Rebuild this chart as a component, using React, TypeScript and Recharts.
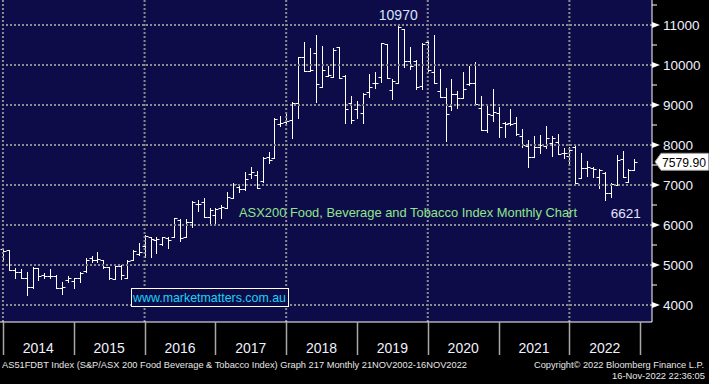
import React from "react";
import {
  ComposedChart,
  Bar,
  XAxis,
  YAxis,
  CartesianGrid,
  ReferenceLine,
  ReferenceDot,
} from "recharts";

// monthly bars, first one is Dec 2013, last one Nov 2022 (partial month)
const yearLabels = ["2014", "2015", "2016", "2017", "2018", "2019", "2020", "2021", "2022"];

const opens = [
  5390, 5370, 4875, 4817, 4683, 4442, 4917, 4740, 4725, 4725, 4417, 4625,
  4600, 4667, 4850, 5167, 5125, 5125, 4950, 4660, 4975, 4667, 5125, 5275,
  5475, 5692, 5625, 5525, 5667, 5708, 6125, 5692, 6067, 6525, 6583, 6208,
  6250, 6433, 6433, 6683, 6958, 6900, 7267, 7250, 7100, 7708, 7683, 8517,
  8583, 8620, 9042, 10192, 9858, 10290, 9442, 9725, 9708, 10442, 9725, 9058,
  8892, 8808, 9317, 9542, 9692, 10525, 9375, 9558, 10892, 10108, 10108, 9475,
  10583, 9833, 9358, 9192, 8975, 9275, 9170, 9525, 9542, 8917, 8375, 8750,
  8792, 8558, 8542, 8542, 8225, 7983, 7708, 7958, 7975, 8050, 8083, 7808,
  7717, 7958, 7167, 7433, 7433, 7200, 7308, 6808, 7000, 7642, 7083, 7375,
];
const highs = [
  5400, 5380, 4917, 4892, 4817, 4942, 4917, 4792, 4900, 4750, 4583, 4725,
  4683, 4817, 5167, 5217, 5317, 5125, 4960, 4990, 4992, 5125, 5375, 5542,
  5750, 5692, 5692, 5692, 5692, 6167, 6142, 6142, 6608, 6625, 6667, 6420,
  6433, 6500, 6833, 7042, 7017, 7333, 7458, 7350, 7708, 7817, 8667, 8733,
  8792, 9067, 10208, 10567, 10433, 10750, 10475, 9975, 10417, 10442, 9750, 9225,
  9108, 9292, 9775, 9833, 10558, 10525, 9642, 10975, 10892, 10442, 10125, 10542,
  10608, 10750, 9892, 9417, 9642, 9350, 9833, 9975, 10067, 9225, 9000, 9392,
  8942, 8583, 8892, 8692, 8392, 8125, 8225, 8250, 8475, 8225, 8275, 7917,
  7958, 7975, 7792, 7608, 7458, 7392, 7333, 7042, 7750, 7858, 7392, 7642,
];
const lows = [
  5090, 4870, 4683, 4667, 4250, 4433, 4617, 4683, 4683, 4417, 4275, 4583,
  4417, 4583, 4833, 5067, 5083, 4917, 4650, 4640, 4642, 4667, 5125, 5250,
  5200, 5192, 5308, 5500, 5417, 5708, 5608, 5692, 5958, 6358, 6208, 6000,
  6042, 6183, 6417, 6683, 6833, 6875, 7183, 6933, 7083, 7542, 7683, 8483,
  8542, 8167, 8667, 9850, 9850, 9083, 9442, 9725, 9692, 9667, 8558, 8558,
  8667, 8558, 9192, 9417, 9583, 9667, 9142, 9558, 9942, 9892, 9392, 9400,
  9858, 9542, 9192, 8108, 8875, 8917, 9167, 9500, 9025, 8375, 8333, 8608,
  8208, 8192, 8500, 8250, 7958, 7458, 7708, 7808, 7917, 7725, 7775, 7667,
  7500, 7058, 7167, 7225, 7192, 6917, 6621, 6692, 7000, 7192, 7083, 7375,
];
const closes = [
  5360, 4880, 4817, 4683, 4442, 4917, 4733, 4720, 4733, 4417, 4442, 4683,
  4667, 4792, 5125, 5125, 5150, 4958, 4680, 4980, 4750, 5108, 5358, 5333,
  5725, 5642, 5642, 5692, 5625, 6167, 5667, 6083, 6583, 6525, 6208, 6375,
  6400, 6458, 6708, 7017, 6900, 7150, 7333, 6933, 7683, 7625, 8650, 8540,
  8600, 9042, 10192, 9858, 9875, 9525, 9875, 9750, 10375, 9667, 8892, 8625,
  9000, 9275, 9458, 9542, 10558, 9667, 9608, 10942, 10108, 9975, 9458, 10525,
  9875, 9542, 9192, 8767, 9275, 9170, 9392, 9558, 9025, 8375, 8775, 8833,
  8458, 8525, 8517, 8267, 8000, 7708, 7958, 8000, 8167, 8167, 7775, 7792,
  7875, 7058, 7417, 7442, 7392, 7370, 6808, 7025, 7625, 7192, 7375, 7579.9,
];

const priceTicks = [4000, 4500, 5000, 5500, 6000, 6500, 7000, 7500, 8000, 8500, 9000, 9500, 10000, 10500, 11000, 11500];
const gridPrices = [4000, 5000, 6000, 7000, 8000, 9000, 10000, 11000];
const gridMonths = [0, 24, 48, 72, 96];

const data = opens.map((open, i) => ({
  t: i,
  open,
  high: highs[i],
  low: lows[i],
  close: closes[i],
  range: [lows[i], highs[i]],
}));

const yearEdges = yearLabels.map((_, i) => i * 12).concat(yearLabels.length * 12);
const yearMids = yearLabels.map((_, i) => i * 12 + 6);

// all-time high of the window, and the 2022 low
const highIdx = highs.indexOf(Math.max(...highs));
const recentLows = lows.slice(96);
const lowIdx = 96 + recentLows.indexOf(Math.min(...recentLows));

const NAVY = "#0e0c48";
const FONT = "'Liberation Sans', Arial, sans-serif";

function OhlcBar(props: any) {
  const { x, y, width, height, payload } = props;
  if (!payload) return null;
  const top = Math.min(y, y + height);
  const span = Math.abs(height);
  const { open, high, low, close } = payload;
  const py = (v: number) =>
    Math.round(top + (high === low ? 0 : ((high - v) / (high - low)) * span)) + 0.5;
  const cx = Math.round(x + width / 2) + 0.5;
  return (
    <g stroke="#ffffff" strokeWidth={1}>
      <line x1={cx} x2={cx} y1={Math.round(top)} y2={Math.round(top + span) + 1} />
      <line x1={cx - 3} x2={cx} y1={py(open)} y2={py(open)} />
      <line x1={cx} x2={cx + 3} y1={py(close)} y2={py(close)} />
    </g>
  );
}

function YearTick(props: any) {
  const { x, y, payload } = props;
  const v = payload.value;
  if (v % 12 === 0) {
    const lx = Math.round(x) + 0.5;
    return <line x1={lx} x2={lx} y1={y} y2={y + 33} stroke="#a8a8a8" strokeWidth={1.5} />;
  }
  return (
    <text x={x} y={y + 31} textAnchor="middle" fill="#f0f0ff" fontSize={14} fontFamily={FONT}>
      {yearLabels[(v - 6) / 12]}
    </text>
  );
}

function PriceTick(props: any) {
  const { x, y, payload } = props;
  const v = payload.value;
  if (v % 1000 !== 0) {
    return <line x1={x} x2={x + 5} y1={y} y2={y} stroke="#ffffff" />;
  }
  return (
    <g>
      <polygon points={`${x},${y - 3} ${x + 8},${y} ${x},${y + 3}`} fill="#ffffff" />
      <text x={x + 11} y={y + 5} fill="#f0f0ff" fontSize={13.5} fontFamily={FONT}>
        {v}
      </text>
    </g>
  );
}

function PriceTag(props: any) {
  const vb = props.viewBox;
  if (!vb) return null;
  const x0 = vb.x + vb.width + 3;
  const y = vb.y;
  return (
    <g>
      <polygon
        points={`${x0},${y} ${x0 + 6},${y - 8.5} 708.5,${y - 8.5} 708.5,${y + 8.5} ${x0 + 6},${y + 8.5}`}
        fill="#ffffff"
        stroke="#9a9a9a"
      />
      <text x={x0 + 7} y={y + 5} fill="#000000" fontSize={13} fontFamily={FONT} textLength={44} lengthAdjust="spacingAndGlyphs">
        {closes[closes.length - 1].toFixed(2)}
      </text>
    </g>
  );
}

function LowLabel(props: any) {
  const vb = props.viewBox;
  if (!vb) return null;
  return (
    <text x={vb.x + 6} y={vb.y + 18} fill="#e4e4ff" fontSize={13.5} fontFamily={FONT}>
      {lows[lowIdx]}
    </text>
  );
}

export default function App() {
  return (
    <div style={{ position: "absolute", left: 0, top: 0, width: 709, height: 384, background: "#000", overflow: "hidden" }}>
      <ComposedChart width={709} height={355} data={data} margin={{ top: 0, right: 0, bottom: 0, left: 0 }}>
        <CartesianGrid fill={NAVY} fillOpacity={1} horizontal={false} vertical={false} stroke="none" />
        <XAxis
          dataKey="t"
          type="number"
          domain={[-0.5, 110]}
          ticks={[...yearEdges, ...yearMids]}
          interval={0}
          tick={(p: any) => <YearTick {...p} />}
          tickLine={false}
          tickSize={0}
          tickMargin={0}
          axisLine={{ stroke: "#ffffff" }}
          height={33}
        />
        <YAxis
          orientation="right"
          type="number"
          domain={[3575, 11625]}
          ticks={priceTicks}
          interval={0}
          tick={(p: any) => <PriceTick {...p} />}
          tickLine={false}
          tickSize={0}
          tickMargin={0}
          axisLine={{ stroke: "#ffffff" }}
          width={57}
        />
        {gridPrices.map((v) => (
          <ReferenceLine key={"h" + v} y={v} stroke="#8c8c8c" strokeWidth={2} strokeDasharray="2 2" />
        ))}
        {gridMonths.map((m) => (
          <ReferenceLine key={"v" + m} x={m} stroke="#8c8c8c" strokeWidth={2} strokeDasharray="2 2" />
        ))}
        <Bar dataKey="range" barSize={4} shape={(p: any) => <OhlcBar {...p} />} isAnimationActive={false} />
        <ReferenceDot
          x={highIdx}
          y={highs[highIdx]}
          r={0}
          fill="none"
          stroke="none"
          label={{ value: "10970", position: "top", offset: 6, fill: "#d8e4ff", fontSize: 14, fontFamily: FONT }}
        />
        <ReferenceDot x={lowIdx} y={lows[lowIdx]} r={0} fill="none" stroke="none" label={(p: any) => <LowLabel {...p} />} />
        <ReferenceLine y={closes[closes.length - 1]} stroke="none" label={(p: any) => <PriceTag {...p} />} />
      </ComposedChart>
      <svg width={709} height={384} style={{ position: "absolute", left: 0, top: 0, pointerEvents: "none" }}>
        <text x={239} y={217} fill="#8ee68e" fontSize={13} fontFamily={FONT} textLength={338} lengthAdjust="spacingAndGlyphs">
          ASX200 Food, Beverage and Tobacco Index Monthly Chart
        </text>
        <rect x={131.5} y={288.5} width={157} height={18} fill={NAVY} stroke="#ffffff" />
        <text x={133} y={302} fill="#19d3f5" fontSize={13} fontFamily={FONT} textLength={153} lengthAdjust="spacingAndGlyphs">
          www.marketmatters.com.au
        </text>
        <text x={2} y={368} fill="#e6e6e6" fontSize={9.5} fontFamily={FONT} textLength={465} lengthAdjust="spacingAndGlyphs">
          AS51FDBT Index (S&amp;P/ASX 200 Food Beverage &amp; Tobacco Index) Graph 217  Monthly 21NOV2002-16NOV2022
        </text>
        <text x={534} y={368} fill="#e6e6e6" fontSize={9} fontFamily={FONT} textLength={170} lengthAdjust="spacingAndGlyphs">
          Copyright© 2022 Bloomberg Finance L.P.
        </text>
        <text x={612} y={379} fill="#e6e6e6" fontSize={9} fontFamily={FONT} textLength={93} lengthAdjust="spacingAndGlyphs">
          16-Nov-2022 22:36:05
        </text>
      </svg>
    </div>
  );
}
